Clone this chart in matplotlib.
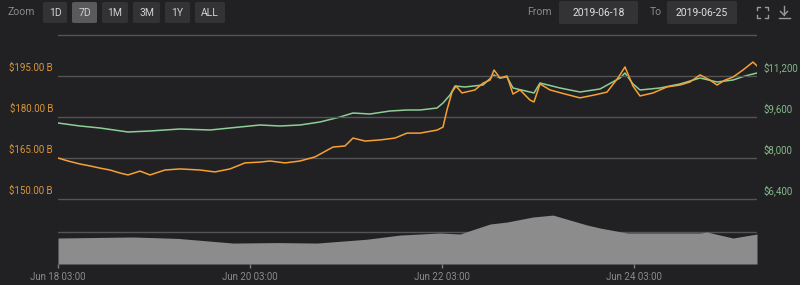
import matplotlib.pyplot as plt
from matplotlib.patches import FancyBboxPatch
from matplotlib.lines import Line2D
import matplotlib.transforms as mtransforms

plt.rcParams['font.family'] = ['Roboto', 'DejaVu Sans']

# hours since Jun 18 03:00
cap_hours = [0, 2.5, 5.5, 8, 10.5, 13, 15.5, 17.5, 20.5, 23, 26.75, 30.5, 35.5, 39.25,
             43, 46.75, 50.5, 53, 56.75, 60.5, 64.25, 68.75, 71.75, 73.75, 76.75, 80.5,
             84.25, 87.25, 90.5, 94.75, 96.25, 97.25, 98.5, 99.5, 101, 104.25, 106.25,
             108, 109, 110.5, 112.25, 113.75, 115.5, 118, 119, 120.5, 123, 126.75, 130.5,
             134.25, 137.25, 140, 141.75, 143.75, 145.5, 148.75, 152.25, 155.5, 158,
             160.5, 163, 164.75, 166.75, 168.75, 171.25, 173.75, 174.75]
# market cap, billions USD
market_cap = [165.0, 163.9, 162.8, 162.1, 161.3, 160.6, 159.5, 158.8, 160.2, 158.8, 160.6,
              161.0, 160.6, 159.9, 161.0, 163.2, 163.5, 163.9, 163.2, 163.9, 165.4, 169.0,
              169.4, 172.3, 171.2, 171.6, 172.3, 174.1, 174.1, 175.2, 176.3, 182.6, 189.1,
              191.3, 188.8, 189.9, 192.4, 193.5, 197.2, 194.3, 195.0, 188.4, 189.9, 186.2,
              185.5, 192.1, 189.9, 188.4, 187.0, 188.1, 189.1, 194.3, 198.3, 191.3, 187.7,
              188.8, 191.0, 191.7, 192.8, 195.4, 193.5, 191.7, 193.5, 194.6, 197.2, 200.1,
              198.7]

price_hours = [0, 5.5, 10.5, 17.5, 23, 30.5, 38, 45.5, 50.5, 55.5, 60.5, 65.5, 70.5, 73.75,
               78, 83, 87.25, 90.5, 94.75, 96.25, 98, 99.25, 101.75, 106.25, 109, 110.5,
               112.25, 113.75, 119, 120.5, 125.5, 130.5, 135.5, 140.5, 141.75, 143.75,
               145.5, 150.5, 155.5, 160.5, 164.75, 168.75, 171.75, 174.75]
price_usd = [9366, 9249, 9171, 9015, 9054, 9132, 9093, 9210, 9288, 9249, 9288, 9405, 9600,
             9756, 9717, 9834, 9873, 9873, 9951, 10146, 10459, 10810, 10771, 10849, 11239,
             11122, 11161, 10732, 10537, 10927, 10732, 10576, 10693, 11122, 11317, 10888,
             10654, 10732, 10888, 11122, 10966, 11044, 11200, 11317]

vol_hours = [0, 10, 18.75, 30, 43.75, 55, 64.75, 77.25, 85.5, 95.5, 100.5, 108, 112.25,
             118.75, 123.75, 132.25, 135.5, 142.25, 152, 160.5, 162.25, 168.75, 174.75]
# volume, billions USD
volume = [16.25, 16.6, 16.9, 16.0, 13.1, 13.4, 13.1, 15.5, 18.1, 19.4, 18.75, 25.0, 26.25,
          29.4, 30.6, 24.4, 22.5, 19.4, 19.4, 19.4, 20.0, 16.25, 18.75]

left_ticks = [150, 165, 180, 195]
left_labels = ['$150.00 B', '$165.00 B', '$180.00 B', '$195.00 B']
right_ticks = [6400, 8000, 9600, 11200]
right_labels = ['$6,400', '$8,000', '$9,600', '$11,200']
x_ticks = [0, 48, 96, 144]
x_labels = ['Jun 18 03:00', 'Jun 20 03:00', 'Jun 22 03:00', 'Jun 24 03:00']

bg = '#212124'
grid = '#545457'
orange = '#f7a033'
green = '#8ccf95'

W, H = 800, 285
fig = plt.figure(figsize=(8, 2.85), dpi=100, facecolor=bg)


def frac(x0, y_top, x1, y_bot):
    return [x0 / W, 1 - y_bot / H, (x1 - x0) / W, (y_bot - y_top) / H]


xmax = 174.75
ax = fig.add_axes(frac(58, 30, 757, 205))
ax.set_facecolor('none')
ax.set_xlim(0, xmax)
ax.set_ylim(147.8, 211.83)
for v in left_ticks + [210]:
    ax.axhline(v, color=grid, lw=1, zorder=0)
ax.plot(cap_hours, market_cap, color=orange, lw=1.1, zorder=3)
ax.set_xticks([])
ax.set_yticks([])
for s in ax.spines.values():
    s.set_visible(False)

up = mtransforms.ScaledTranslation(0, 6 / 72, fig.dpi_scale_trans)
for v, lab in zip(left_ticks, left_labels):
    ax.text(-5 / 699, v, lab, transform=ax.get_yaxis_transform() + up,
            ha='right', va='center', fontsize=7, color='#d9963a')

ax2 = ax.twinx()
ax2.set_ylim(6165.9, 12995)
ax2.plot(price_hours, price_usd, color=green, lw=1.1, zorder=2)
ax2.set_yticks([])
for s in ax2.spines.values():
    s.set_visible(False)
for v, lab in zip(right_ticks, right_labels):
    ax2.text(1 + 7 / 699, v, lab, transform=ax2.get_yaxis_transform() + up,
             ha='left', va='center', fontsize=7, color='#86b98a')
ax.set_zorder(ax2.get_zorder() + 1)

axv = fig.add_axes(frac(58, 205, 757, 264))
axv.set_facecolor('none')
axv.set_xlim(0, xmax)
axv.set_ylim(0, 36.9)
axv.axhline(20, color=grid, lw=1, zorder=0)
axv.fill_between(vol_hours, volume, 0, color='#8c8c8c', lw=0, zorder=2)
axv.set_yticks([])
for s in axv.spines.values():
    s.set_visible(False)
axv.set_xticks(x_ticks)
axv.set_xticklabels(x_labels)
axv.tick_params(axis='x', colors='#7d7d7d', length=3, width=1, pad=3, labelsize=7)
for t in axv.get_xticklabels():
    t.set_color('#8a8a8a')


def box(x0, x1, y0, y1, fc):
    p = FancyBboxPatch((x0 / W, 1 - y1 / H), (x1 - x0) / W, (y1 - y0) / H,
                       boxstyle='round,pad=0,rounding_size=0.004',
                       transform=fig.transFigure, fc=fc, ec='none')
    fig.patches.append(p)


# top toolbar
fig.text(8 / W, 1 - 12 / H, 'Zoom', color='#8a8a8a', fontsize=7.5, va='center')
buttons = [('1D', 43, 67), ('7D', 72, 97), ('1M', 102, 128), ('3M', 133, 160),
           ('1Y', 165, 190), ('ALL', 195, 225)]
for lab, x0, x1 in buttons:
    box(x0, x1, 2, 23, '#5a5a5c' if lab == '7D' else '#333336')
    fig.text((x0 + x1) / 2 / W, 1 - 12.5 / H, lab, color='#d0d0d0', fontsize=7.5,
             ha='center', va='center')

fig.text(527 / W, 1 - 12 / H, 'From', color='#8a8a8a', fontsize=7.5, va='center')
fig.text(650 / W, 1 - 12 / H, 'To', color='#8a8a8a', fontsize=7.5, va='center')
for lab, x0, x1 in [('2019-06-18', 559, 638), ('2019-06-25', 667, 737)]:
    box(x0, x1, 1, 24, '#333336')
    fig.text((x0 + x1) / 2 / W, 1 - 12.5 / H, lab, color='#e0e0e0', fontsize=7.5,
             ha='center', va='center')


def seg(xs, ys):
    fig.add_artist(Line2D([x / W for x in xs], [1 - y / H for y in ys],
                          color='#9a9a9a', lw=1, transform=fig.transFigure))


# fullscreen icon (corner brackets)
for cx, cy, dx, dy in [(757, 7, 1, 1), (768, 7, -1, 1), (757, 18, 1, -1), (768, 18, -1, -1)]:
    seg([cx + 3 * dx, cx, cx], [cy, cy, cy + 3 * dy])
# download icon
seg([784, 784], [6, 15])
seg([780.5, 784, 787.5], [11.5, 15, 11.5])
seg([779, 790], [18, 18])

fig.savefig('out.png', dpi=100, facecolor=bg)
